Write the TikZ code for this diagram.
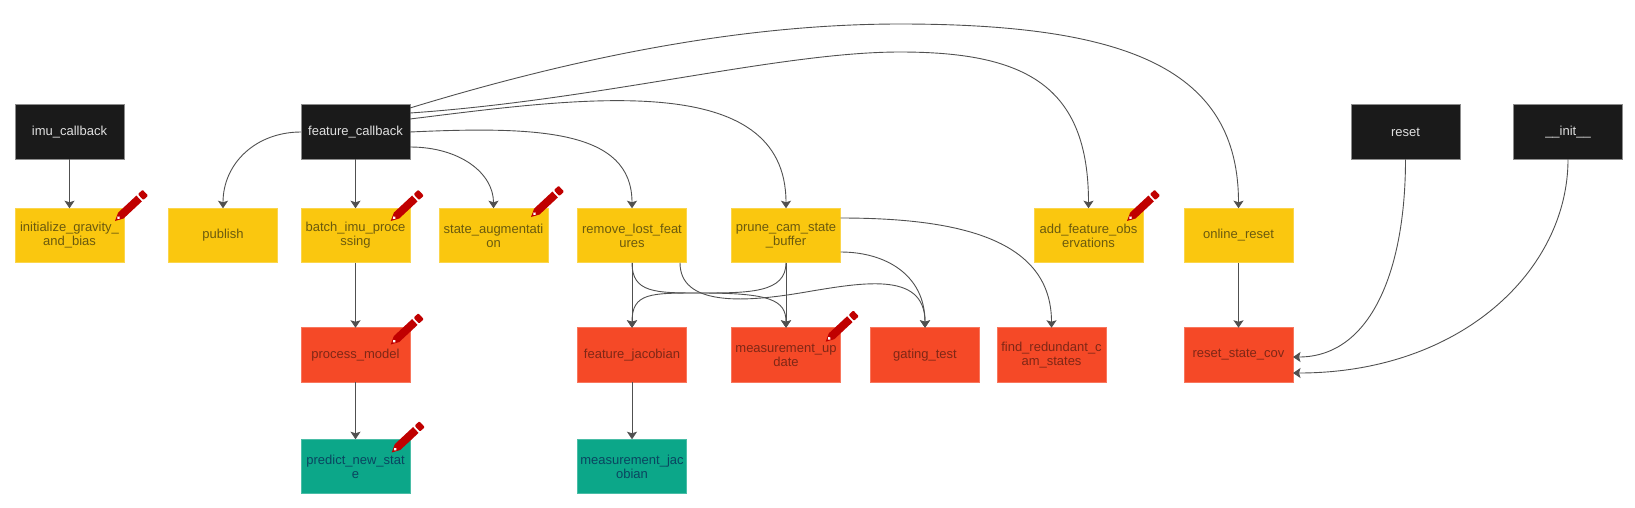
\documentclass[tikz,border=0pt]{standalone}
\usepackage{fontspec}
\setmainfont{Liberation Sans}
\usetikzlibrary{arrows.meta,positioning}
\definecolor{cbblack}{HTML}{1A1A1A}
\definecolor{cbyellow}{HTML}{FAC70F}
\definecolor{cbred}{HTML}{F54927}
\definecolor{cbgreen}{HTML}{0CA789}
\definecolor{pencilred}{HTML}{C00000}
\definecolor{linkgray}{HTML}{505050}
\definecolor{yellowtext}{HTML}{6B5A0E}
\definecolor{redtext}{HTML}{7F2716}
\definecolor{greentext}{HTML}{0A4560}

\tikzset{pencilmark/.pic={
	\begin{scope}[rotate=43]
	  \fill[pencilred] (0,0) -- (8,4) -- (33,4) -- (33,-4) -- (8,-4) -- cycle;
	  \fill[pencilred,rounded corners=1pt] (35,-4) rectangle (41.5,4);
	  \fill[white] (4.8,0) circle (1.7);
	\end{scope}
}}

\begin{document}
\begin{tikzpicture}[x=1pt,y=-1pt,node distance=49pt,semithick]
	  \tikzstyle{box}=[rectangle,minimum width=109pt,minimum height=54.5pt,inner sep=0pt,outer sep=0pt,align=center,font=\fontsize{13}{14}\selectfont,line width=0.6pt]
	  \tikzstyle{entry}=[box,fill=cbblack,draw=black!45,text=white!88!black]
	  \tikzstyle{stage}=[box,fill=cbyellow,draw=cbyellow!75!white,text=yellowtext]
	  \tikzstyle{update}=[box,fill=cbred,draw=cbred!75!white,text=redtext]
	  \tikzstyle{leaf}=[box,fill=cbgreen,draw=cbgreen!75!white,text=greentext]
	  \tikzstyle{link}=[draw=linkgray,line width=0.9pt,-{Stealth[length=7.5pt,width=10pt,inset=1.5pt]}]

	  \useasboundingbox (0,0) rectangle (1635,507);

	  \node[entry] (imu) at (69.5,132) {imu\_callback};
	  \node[entry] (fb) [right=177pt of imu] {feature\_callback};
	  \node[entry] (rst) [right=941pt of fb] {reset};
	  \node[entry] (init) [right=53.5pt of rst] {\_\_init\_\_};

	  \node[stage] (ini) [below=of imu] {initialize\_gravity\_\\and\_bias};
	  \node[stage] (pub) [right=44.5pt of ini] {publish};
	  \node[stage] (batch) [below=of fb] {batch\_imu\_proce\\ssing};
	  \node[stage] (aug) [right=29pt of batch] {state\_augmentati\\on};
	  \node[stage] (rem) [right=29.5pt of aug] {remove\_lost\_feat\\ures};
	  \node[stage] (prune) [right=45pt of rem] {prune\_cam\_state\\\_buffer};
	  \node[stage] (add) [right=193.5pt of prune] {add\_feature\_obs\\ervations};
	  \node[stage] (onl) [right=41pt of add] {online\_reset};

	  \node[update] (proc) [below=65pt of batch] {process\_model};
	  \node[update] (fjac) [below=65pt of rem] {feature\_jacobian};
	  \node[update] (meas) [below=65pt of prune] {measurement\_up\\date};
	  \node[update] (gate) [right=30pt of meas] {gating\_test};
	  \node[update] (find) [right=17.5pt of gate] {find\_redundant\_c\\am\_states};
	  \node[update] (cov) [below=65pt of onl] {reset\_state\_cov};

	  \node[leaf] (pred) [below=57pt of proc] {predict\_new\_stat\\e};
	  \node[leaf] (mjac) [below=57pt of fjac] {measurement\_jac\\obian};

	  \coordinate (addbend) at (900,52);
	  \coordinate (onlbend) at (900,24);
	  \coordinate (crossbend) at (700,293);
	  \coordinate (gatebend) at (800,293);

	  \draw[link] (imu) -- (ini);
	  \draw[link] (fb) -- (batch);
	  \draw[link] (batch) -- (proc);
	  \draw[link] (proc) -- (pred);
	  \draw[link] (rem) -- (fjac);
	  \draw[link] (fjac) -- (mjac);
	  \draw[link] (prune) -- (meas);
	  \draw[link] (onl) -- (cov);

	  \draw[link] (fb.west) .. controls +(-45,0) and +(0,-45) .. (pub.north);
	  \draw[link] ([yshift=-15pt]fb.east) .. controls +(50,0) and +(0,-35) .. (aug.north);
	  \draw[link] (fb.east) .. controls +(130,-6) and +(0,-78) .. (rem.north);
	  \draw[link] ([yshift=13pt]fb.east) .. controls +(170,-21) and +(0,-140) .. (prune.north);
	  \draw[link] ([yshift=19pt]fb.east) .. controls +(190,-13) and +(-120,0) .. (addbend)
	  .. controls +(125,0) and +(0,-123) .. (add.north);
	  \draw[link] ([yshift=24pt]fb.east) .. controls +(190,-58) and +(-140,0) .. (onlbend)
	  .. controls +(230,0) and +(0,-138) .. (onl.north);

	  \draw[link] ([yshift=17.5pt]prune.east) .. controls +(120,0) and +(0,-88) .. (find.north);
	  \draw[link] ([yshift=-16.5pt]prune.east) .. controls +(45,0) and +(0,-53) .. (gate.north);
	  \draw[link] ([xshift=-6.5pt]rem.south east) .. controls +(0,42) and +(-60,10) .. (gatebend)
	  .. controls +(60,-10) and +(0,-58) .. (gate.north);
	  \draw[link] (rem.south) .. controls +(0,30) and +(-45,0) .. (crossbend)
	  .. controls +(70,0) and +(0,-28) .. (meas.north);
	  \draw[link] (prune.south) .. controls +(0,30) and +(50,0) .. (crossbend)
	  .. controls +(-50,0) and +(0,-35) .. (fjac.north);

	  \draw[link] (rst.south) .. controls +(0,111) and +(78,0) .. ([yshift=-2pt]cov.east);
	  \draw[link] (init.south) .. controls +(0,111) and +(168,0) .. ([yshift=-18pt]cov.east);

	  \pic at (115,221) {pencilmark};
	  \pic at (390.7,221) {pencilmark};
	  \pic at (531,217) {pencilmark};
	  \pic at (390.7,344.5) {pencilmark};
	  \pic at (391.7,452.5) {pencilmark};
	  \pic at (825.7,341.7) {pencilmark};
	  \pic at (1127,221) {pencilmark};
	\end{tikzpicture}
\end{document}
